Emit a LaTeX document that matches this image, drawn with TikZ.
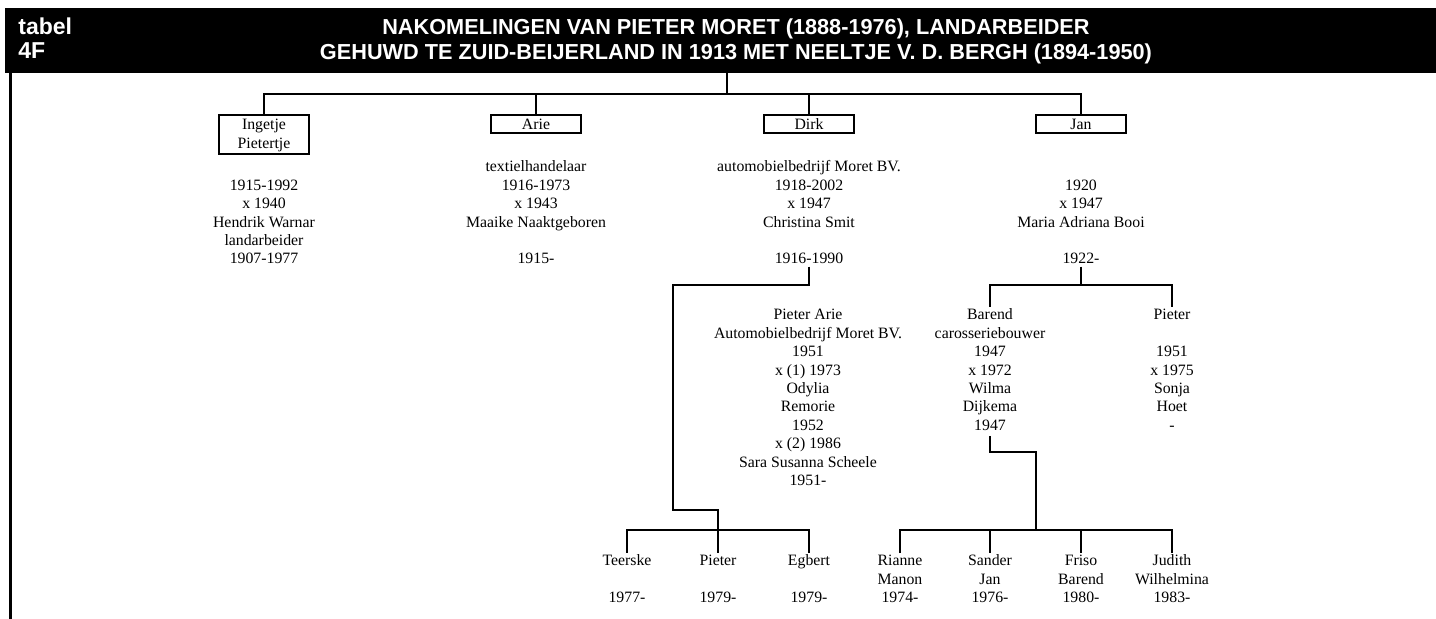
\documentclass[tikz,border=0pt]{standalone}
\usepackage{fontspec}
\setmainfont{Liberation Serif}
\newfontfamily\kopfont{Liberation Sans}
\usetikzlibrary{positioning}
\newcommand\tekst{\fontsize{7.9}{9.2}\selectfont}
\newcommand\koptekst{\kopfont\bfseries\fontsize{10.85}{13}\selectfont}
\newcommand\tabeltekst{\kopfont\bfseries\fontsize{11.5}{13}\selectfont}
\tikzset{
  lijn/.style={line width=1pt},
  naam/.style={draw, line width=1pt, minimum width=45pt, inner xsep=0pt, inner ysep=0pt,
    text height=7.5pt, text depth=1.5pt, align=center, anchor=north, font=\tekst},
  info/.style={inner sep=1pt, align=center, anchor=base, font=\tekst},
  kop/.style={inner sep=0pt, anchor=base, text=white, font=\koptekst},
}
\begin{document}
\begin{tikzpicture}[x=0.5pt, y=-0.5pt]
  \useasboundingbox (0, 0) rectangle (1436, 619);

  % kop
  \fill [black] (5, 8) rectangle (1436, 73);
  \draw [line width=1.2pt] (10.5, 73) -- (10.5, 619);
  \node [kop, anchor=base west, font=\tabeltekst] (tabel) at (18, 35) {tabel};
  \node [kop, anchor=base west, font=\tabeltekst] (nr) at (18, 59) {4F};
  \node [kop] (titel1) at (736, 35) {NAKOMELINGEN VAN PIETER MORET (1888-1976), LANDARBEIDER};
  \node [kop] (titel2) at (736, 60) {GEHUWD TE ZUID-BEIJERLAND IN 1913 MET NEELTJE V. D. BERGH (1894-1950)};
  \coordinate (ouders) at (727, 73);
  \coordinate (balk) at (727, 94);

  % kinderen (base = laatste regel)
  \node [naam, text height=16.7pt, text depth=2.8pt] (ingetje) at (264, 114) {Ingetje\\Pietertje};
  \node [naam] (arie) at (536, 114) {Arie};
  \node [naam] (dirk) at (809, 114) {Dirk};
  \node [naam] (jan) at (1081, 114) {Jan};

  \node [info] (ingetjeinfo) at (264, 264) {1915-1992\\x 1940\\Hendrik Warnar\\landarbeider\\1907-1977};
  \node [info] (arieinfo) at (536, 264) {textielhandelaar\\1916-1973\\x 1943\\Maaike Naaktgeboren\\ \\1915-};
  \node [info] (dirkinfo) at (809, 264) {automobielbedrijf Moret BV.\\1918-2002\\x 1947\\Christina Smit\\ \\1916-1990};
  \node [info] (janinfo) at (1081, 264) {1920\\x 1947\\Maria Adriana Booi\\ \\1922-};

  \draw [lijn] (ouders) -- (balk);
  \draw [lijn] (ingetje.north) |- (balk) -| (jan.north);
  \draw [lijn] (arie.north) -- (arie.north |- balk);
  \draw [lijn] (dirk.north) -- (dirk.north |- balk);

  % kleinkinderen
  \node [info] (pieterarie) at (808, 485.6) {Pieter Arie\\Automobielbedrijf Moret BV.\\1951\\x (1) 1973\\Odylia\\Remorie\\1952\\x (2) 1986\\Sara Susanna Scheele\\1951-};
  \node [info] (barend) at (990, 430.4) {Barend\\carosseriebouwer\\1947\\x 1972\\Wilma\\Dijkema\\1947};
  \node [info] (pieter) at (1172, 430.4) {Pieter\\ \\1951\\x 1975\\Sonja\\Hoet\\-};

  \coordinate (dirkl) at (673, 285);
  \coordinate (dirkm) at (718, 510);
  \coordinate (dirkbar) at (718, 530);
  \coordinate (janbar) at (1081, 285);
  \coordinate (barendk) at (1036, 452);
  \coordinate (barendbar) at (1036, 530);

  \draw [lijn] (janinfo.south) -- (janbar);
  \draw [lijn] (barend.north) |- (janbar) -| (pieter.north);

  % achterkleinkinderen
  \node [info] (teerske) at (627, 602.8) {Teerske\\ \\1977-};
  \node [info] (pieterjr) at (718, 602.8) {Pieter\\ \\1979-};
  \node [info] (egbert) at (809, 602.8) {Egbert\\ \\1979-};
  \node [info] (rianne) at (900, 602.8) {Rianne\\Manon\\1974-};
  \node [info] (sander) at (990, 602.8) {Sander\\Jan\\1976-};
  \node [info] (friso) at (1081, 602.8) {Friso\\Barend\\1980-};
  \node [info] (judith) at (1172, 602.8) {Judith\\Wilhelmina\\1983-};

  \draw [lijn] (dirkinfo.south) |- (dirkl) |- (dirkm) -- (pieterjr.north);
  \draw [lijn] (teerske.north) |- (dirkbar) -| (egbert.north);

  \draw [lijn] (barend.south) ++(0, 3) |- (barendk) -- (barendbar);
  \draw [lijn] (rianne.north) |- (barendbar) -| (judith.north);
  \draw [lijn] (sander.north) -- (sander.north |- barendbar);
  \draw [lijn] (friso.north) -- (friso.north |- barendbar);
\end{tikzpicture}
\end{document}
